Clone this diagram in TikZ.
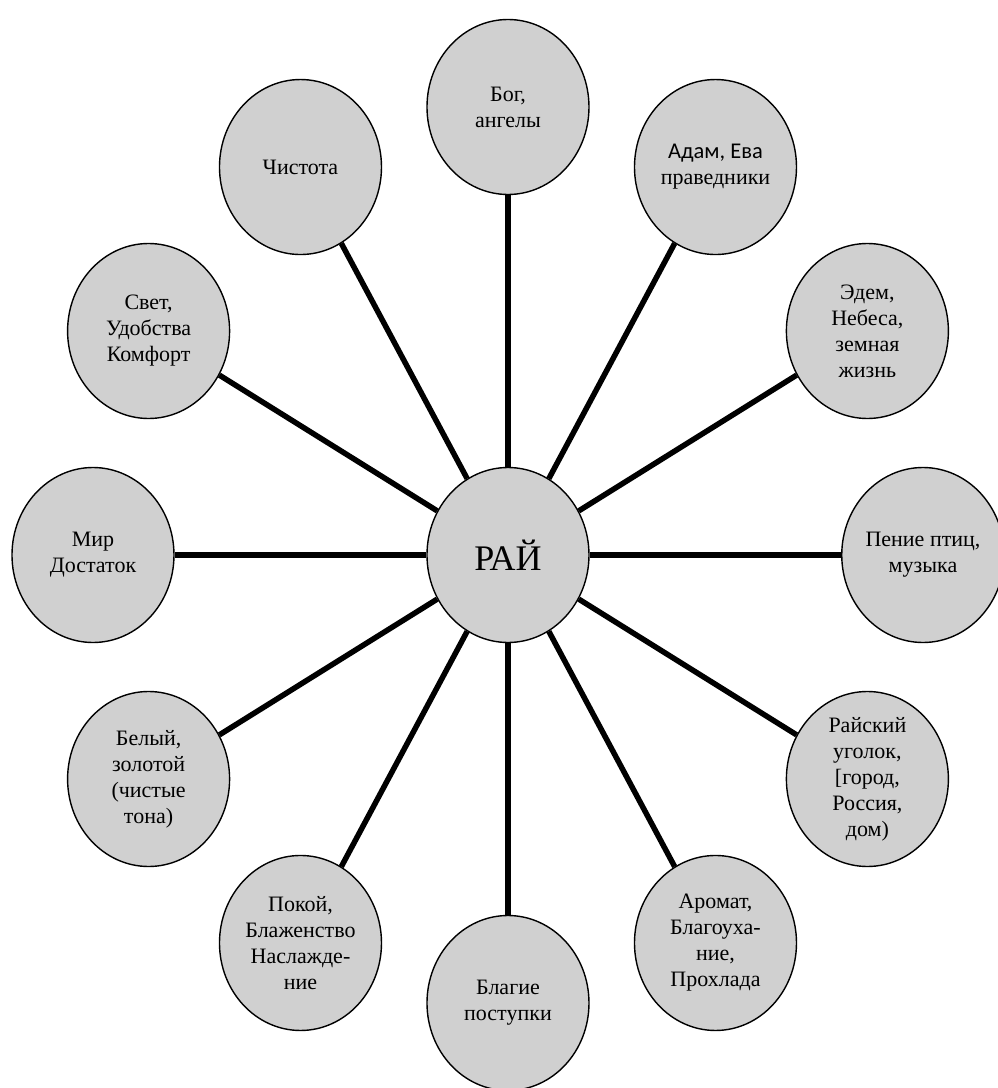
\documentclass[tikz,border=0pt]{standalone}
\usepackage{fontspec}
\setmainfont{Liberation Serif}
\newfontfamily\calibrifont{Carlito}
\usetikzlibrary{shapes.geometric}
\definecolor{bubblegray}{RGB}{208,208,208}

\begin{document}
\begin{tikzpicture}[
    bubble/.style={ellipse, draw, line width=1.4pt, fill=bubblegray,
      minimum width=162pt, minimum height=175pt, inner sep=0pt,
      align=center, font=\fontsize{22}{26}\selectfont},
    spoke/.style={line width=5.5pt}]
  \useasboundingbox (-508pt,-533pt) rectangle (489pt,555pt);
  % centre
  \node[bubble, font=\fontsize{36}{38}\selectfont] (rai) at (0,0) {РАЙ};
  % ring of ideas
  \node[bubble] (bog)    at (90:415pt and 448pt)  {Бог,\\ангелы};
  \node[bubble] (adam)   at (60:415pt and 448pt)  {{\calibrifont\fontsize{22.5}{26}\selectfont Адам, Ева}\\праведники};
  \node[bubble] (edem)   at (30:415pt and 448pt)  {Эдем,\\Небеса,\\земная\\жизнь};
  \node[bubble] (penie)  at (0:415pt and 448pt)   {Пение птиц,\\музыка};
  \node[bubble] (ugolok) at (-30:415pt and 448pt) {Райский\\уголок,\\{[}город,\\Россия,\\дом)};
  \node[bubble] (aromat) at (-60:415pt and 448pt) {Аромат,\\Благоуха-\\ние,\\Прохлада};
  \node[bubble] (blagie) at (-90:415pt and 448pt) {Благие\\поступки};
  \node[bubble] (pokoj)  at (-120:415pt and 448pt) {Покой,\\Блаженство\\Наслажде-\\ние};
  \node[bubble] (belyj)  at (-150:415pt and 448pt) {Белый,\\золотой\\(чистые\\тона)};
  \node[bubble] (mir)    at (180:415pt and 448pt) {Мир\\Достаток};
  \node[bubble] (svet)   at (150:415pt and 448pt) {Свет,\\Удобства\\Комфорт};
  \node[bubble] (chist)  at (120:415pt and 448pt) {Чистота};

  \path[spoke]
    (rai) edge (bog)
    (rai) edge (adam)
    (rai) edge (edem)
    (rai) edge (penie)
    (rai) edge (ugolok)
    (rai) edge (aromat)
    (rai) edge (blagie)
    (rai) edge (pokoj)
    (rai) edge (belyj)
    (rai) edge (mir)
    (rai) edge (svet)
    (rai) edge (chist)
    ;
\end{tikzpicture}
\end{document}
